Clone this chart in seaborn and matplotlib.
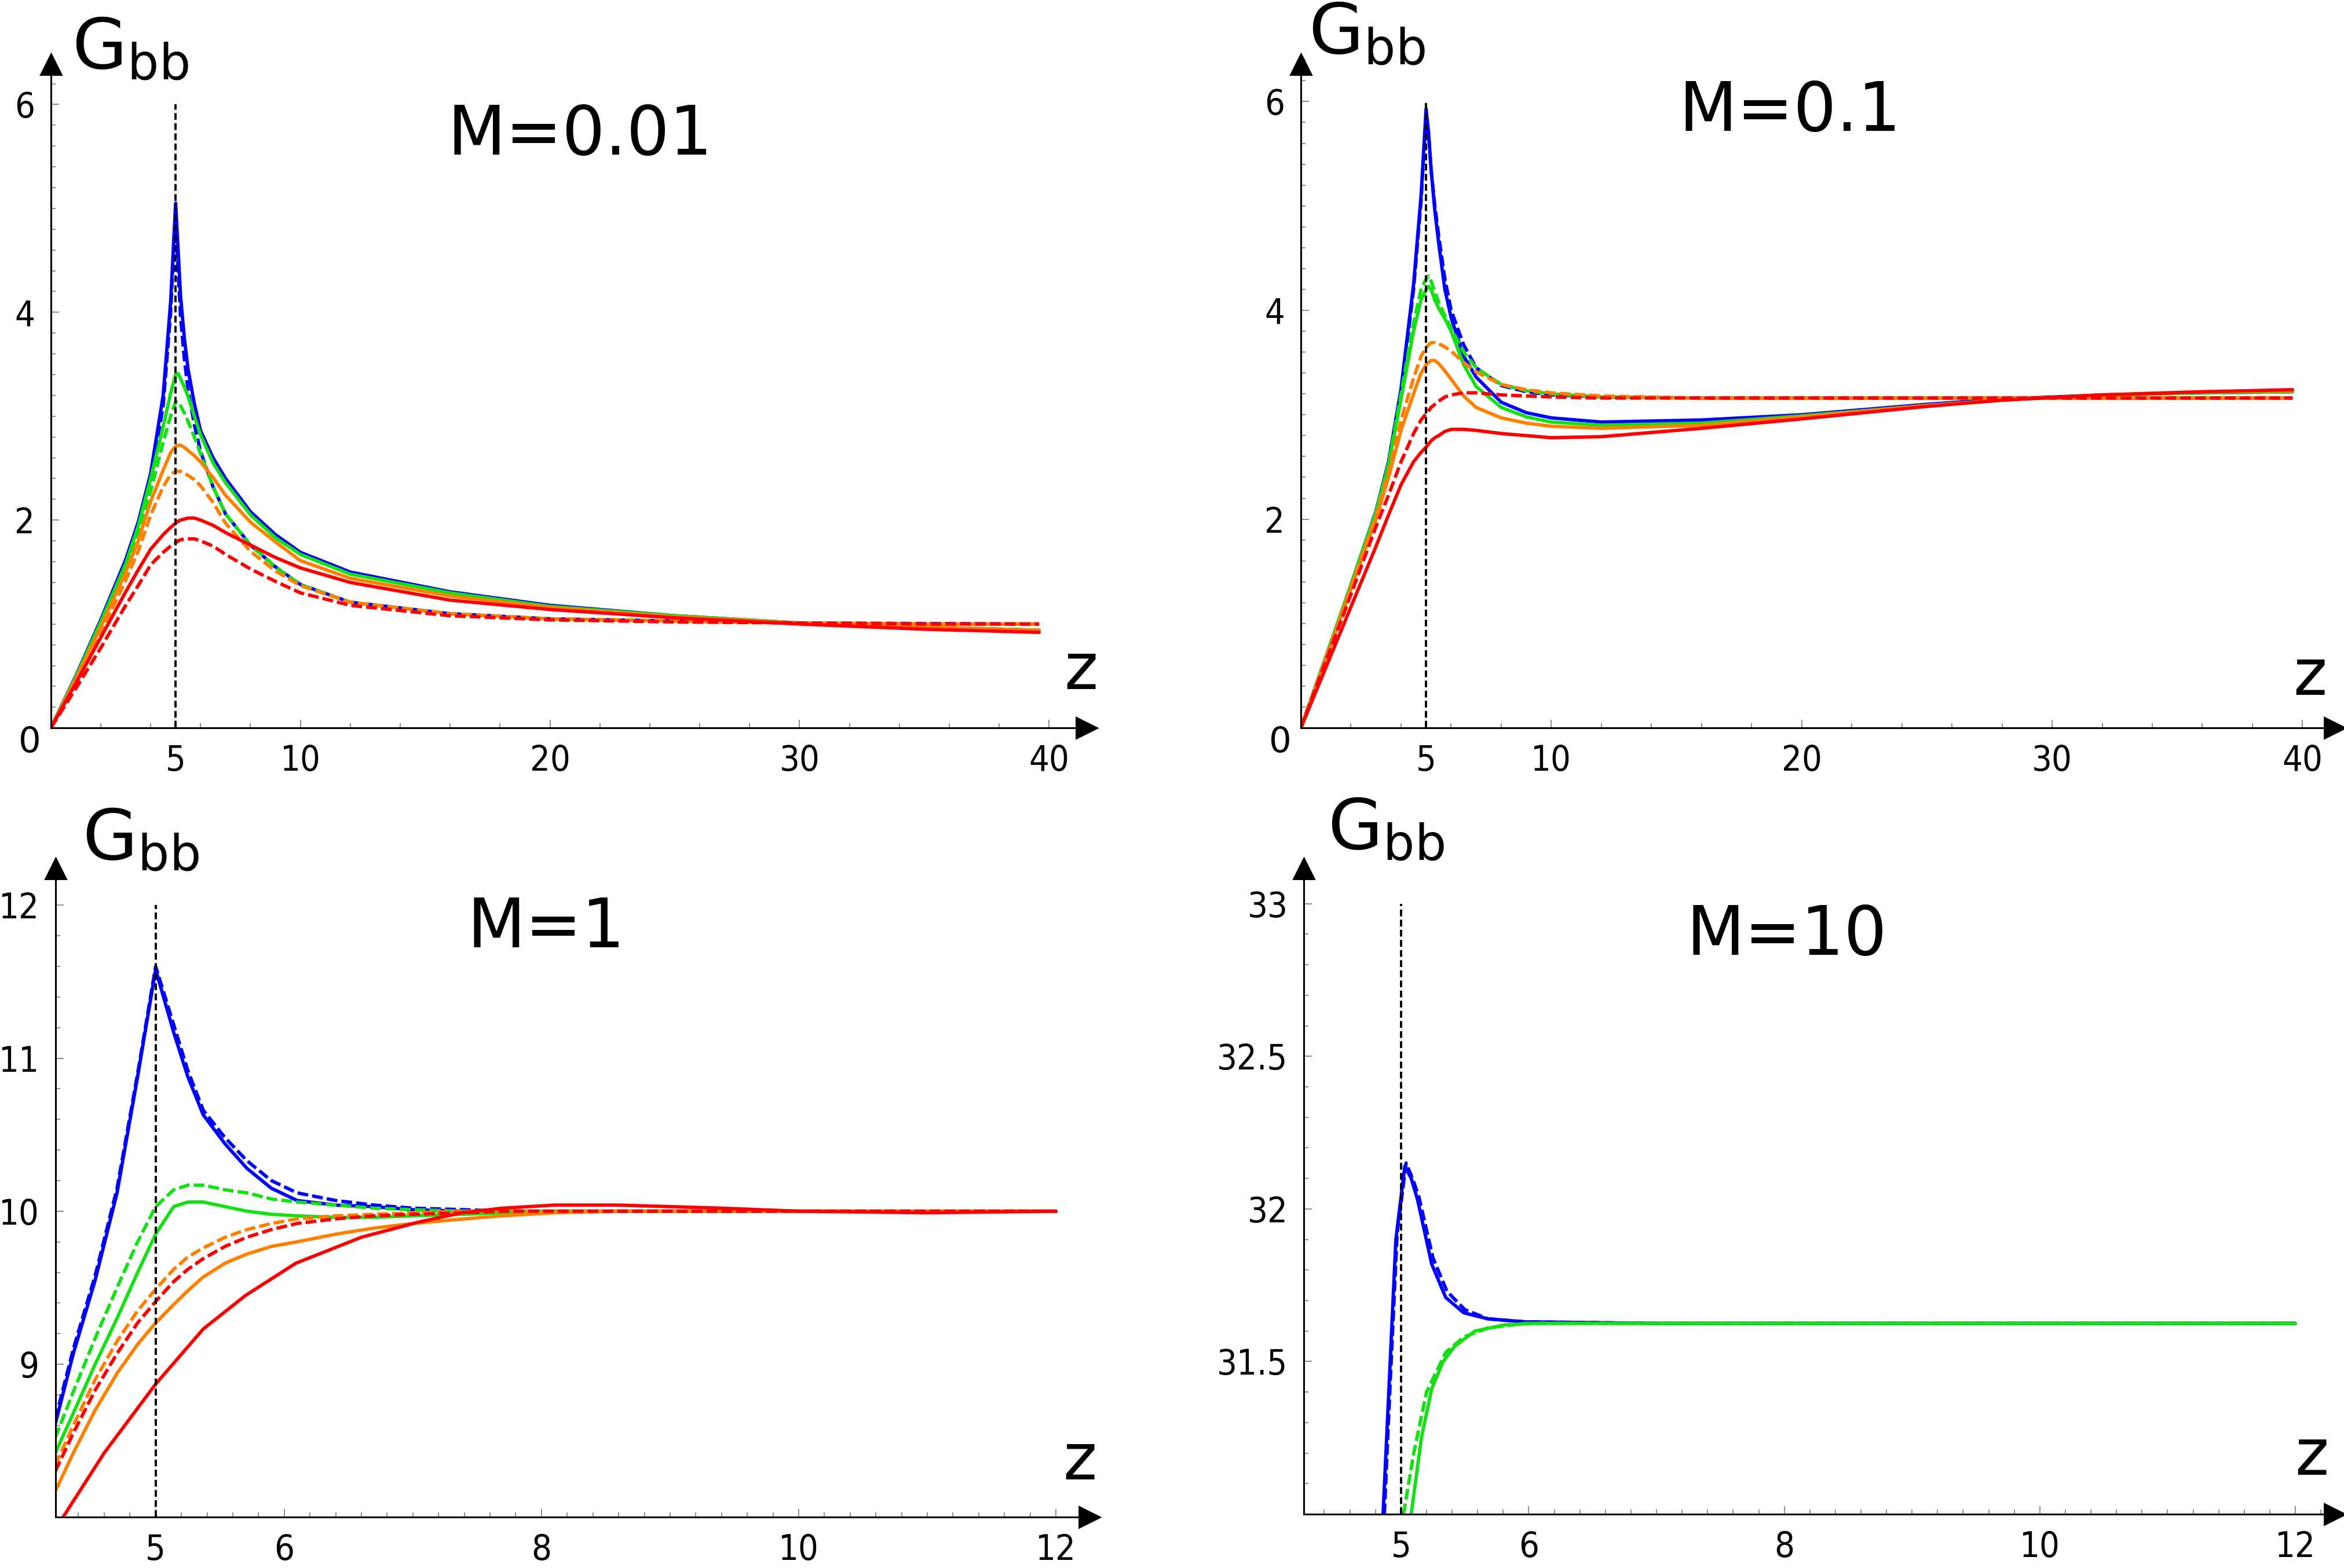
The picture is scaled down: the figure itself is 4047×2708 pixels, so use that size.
import numpy as np
import pandas as pd
import matplotlib
matplotlib.use("Agg")
import matplotlib.pyplot as plt
from matplotlib.ticker import FixedLocator, MultipleLocator
import seaborn as sns

# ---------------- data ----------------
# Panel M=0.01
z_m001 = [0, 1, 2, 3, 3.5, 4, 4.5, 4.8, 5.0, 5.1, 5.2, 5.35, 5.5, 5.75, 6.0, 6.5, 7, 8, 9, 10, 12, 16, 20, 25, 30, 35, 39.6]
m001_blue_solid = [0, 0.50, 1.04, 1.62, 1.98, 2.45, 3.2, 4.1, 5.05, 4.6, 4.15, 3.75, 3.45, 3.12, 2.86, 2.60, 2.40, 2.08, 1.86, 1.69, 1.50, 1.31, 1.18, 1.08, 1.01, 0.97, 0.94]
m001_blue_dash = [0, 0.48, 1.00, 1.56, 1.92, 2.38, 3.1, 4.0, 5.0, 4.4, 3.95, 3.55, 3.25, 2.92, 2.66, 2.32, 2.06, 1.76, 1.55, 1.38, 1.21, 1.10, 1.05, 1.03, 1.01, 1.005, 1.0]
m001_green_solid = [0, 0.49, 1.02, 1.58, 1.94, 2.40, 2.9, 3.22, 3.40, 3.41, 3.36, 3.28, 3.19, 3.0, 2.82, 2.55, 2.36, 2.05, 1.83, 1.67, 1.48, 1.30, 1.17, 1.08, 1.01, 0.97, 0.94]
m001_green_dash = [0, 0.47, 0.97, 1.52, 1.86, 2.28, 2.75, 3.0, 3.14, 3.14, 3.10, 3.03, 2.95, 2.80, 2.64, 2.32, 2.06, 1.76, 1.55, 1.38, 1.21, 1.10, 1.05, 1.03, 1.01, 1.0, 1.0]
m001_orange_solid = [0, 0.47, 0.97, 1.50, 1.80, 2.18, 2.48, 2.65, 2.71, 2.72, 2.72, 2.70, 2.67, 2.62, 2.56, 2.41, 2.24, 1.98, 1.79, 1.61, 1.44, 1.27, 1.16, 1.07, 1.01, 0.97, 0.94]
m001_orange_dash = [0, 0.44, 0.92, 1.42, 1.70, 2.05, 2.32, 2.44, 2.47, 2.47, 2.47, 2.45, 2.43, 2.39, 2.33, 2.17, 1.97, 1.70, 1.51, 1.37, 1.21, 1.10, 1.05, 1.03, 1.01, 1.0, 1.0]
m001_red_solid = [0, 0.43, 0.87, 1.31, 1.52, 1.72, 1.86, 1.93, 1.97, 1.99, 2.0, 2.01, 2.02, 2.02, 2.0, 1.95, 1.88, 1.76, 1.64, 1.54, 1.40, 1.23, 1.14, 1.06, 1.0, 0.95, 0.92]
m001_red_dash = [0, 0.38, 0.77, 1.18, 1.37, 1.57, 1.69, 1.75, 1.78, 1.80, 1.81, 1.82, 1.82, 1.82, 1.80, 1.75, 1.67, 1.53, 1.41, 1.30, 1.18, 1.08, 1.04, 1.02, 1.01, 1.0, 1.0]

# Panel M=0.1
z_m01 = [0, 1, 2, 3, 3.5, 4, 4.5, 4.8, 5.0, 5.1, 5.2, 5.35, 5.5, 5.75, 6.0, 6.5, 7, 8, 9, 10, 12, 16, 20, 25, 28, 32, 36, 39.6]
m01_blue_solid = [0, 0.68, 1.37, 2.08, 2.55, 3.25, 4.25, 5.1, 5.93, 5.7, 5.35, 4.95, 4.65, 4.2, 3.93, 3.56, 3.36, 3.12, 3.02, 2.97, 2.93, 2.95, 3.0, 3.1, 3.15, 3.19, 3.21, 3.22]
m01_blue_dash = [0, 0.68, 1.37, 2.07, 2.53, 3.22, 4.2, 5.05, 5.88, 5.68, 5.35, 5.0, 4.72, 4.3, 4.0, 3.67, 3.45, 3.28, 3.22, 3.19, 3.17, 3.16, 3.16, 3.16, 3.16, 3.16, 3.16, 3.16]
m01_green_solid = [0, 0.68, 1.37, 2.07, 2.52, 3.15, 3.8, 4.1, 4.2, 4.23, 4.2, 4.1, 4.02, 3.92, 3.8, 3.48, 3.27, 3.07, 2.98, 2.93, 2.90, 2.92, 2.99, 3.09, 3.14, 3.19, 3.21, 3.22]
m01_green_dash = [0, 0.68, 1.37, 2.07, 2.53, 3.2, 3.88, 4.2, 4.3, 4.33, 4.28, 4.18, 4.08, 3.95, 3.83, 3.6, 3.45, 3.29, 3.23, 3.2, 3.17, 3.16, 3.16, 3.16, 3.16, 3.16, 3.16, 3.16]
m01_orange_solid = [0, 0.66, 1.33, 2.0, 2.4, 2.85, 3.2, 3.4, 3.48, 3.5, 3.52, 3.52, 3.49, 3.42, 3.34, 3.18, 3.07, 2.97, 2.92, 2.89, 2.87, 2.90, 2.98, 3.09, 3.14, 3.19, 3.22, 3.23]
m01_orange_dash = [0, 0.67, 1.35, 2.03, 2.45, 2.95, 3.35, 3.56, 3.64, 3.67, 3.69, 3.69, 3.68, 3.65, 3.61, 3.5, 3.41, 3.29, 3.24, 3.21, 3.18, 3.16, 3.16, 3.16, 3.16, 3.16, 3.16, 3.16]
m01_red_solid = [0, 0.58, 1.16, 1.74, 2.04, 2.33, 2.55, 2.64, 2.69, 2.72, 2.75, 2.78, 2.8, 2.84, 2.86, 2.86, 2.85, 2.82, 2.8, 2.78, 2.79, 2.87, 2.96, 3.08, 3.14, 3.19, 3.22, 3.24]
m01_red_dash = [0, 0.64, 1.28, 1.93, 2.23, 2.55, 2.82, 2.95, 3.01, 3.04, 3.07, 3.10, 3.13, 3.17, 3.19, 3.21, 3.21, 3.19, 3.18, 3.17, 3.16, 3.16, 3.16, 3.16, 3.16, 3.16, 3.16, 3.16]

# Panel M=1
z_m1 = [4.22, 4.36, 4.53, 4.70, 4.86, 5.0, 5.14, 5.25, 5.37, 5.54, 5.71, 5.9, 6.1, 6.4, 6.7, 7.0, 7.4, 7.7, 8.1, 8.6, 9.4, 10.0, 11.0, 12.0]
m1_blue_solid = [8.61, 9.07, 9.55, 10.12, 10.88, 11.58, 11.17, 10.88, 10.63, 10.44, 10.28, 10.15, 10.07, 10.04, 10.03, 10.01, 10.0, 10.0, 10.0, 10.0, 10.0, 10.0, 10.0, 10.0]
m1_blue_dash = [8.64, 9.10, 9.58, 10.15, 10.9, 11.6, 11.22, 10.92, 10.66, 10.48, 10.33, 10.2, 10.12, 10.07, 10.04, 10.02, 10.01, 10.0, 10.0, 10.0, 10.0, 10.0, 10.0, 10.0]
m1_green_solid = [8.42, 8.68, 9.0, 9.3, 9.6, 9.85, 10.03, 10.06, 10.06, 10.03, 10.0, 9.98, 9.97, 9.96, 9.96, 9.97, 9.98, 9.99, 10.0, 10.0, 10.0, 10.0, 10.0, 10.0]
m1_green_dash = [8.52, 8.82, 9.17, 9.5, 9.8, 10.03, 10.14, 10.17, 10.17, 10.14, 10.12, 10.08, 10.06, 10.04, 10.02, 10.01, 10.0, 10.0, 10.0, 10.0, 10.0, 10.0, 10.0, 10.0]
m1_orange_solid = [8.17, 8.42, 8.7, 8.94, 9.13, 9.27, 9.39, 9.48, 9.57, 9.66, 9.72, 9.77, 9.8, 9.85, 9.89, 9.92, 9.95, 9.97, 9.99, 10.0, 10.0, 10.0, 10.0, 10.0]
m1_orange_dash = [8.34, 8.6, 8.9, 9.15, 9.35, 9.49, 9.62, 9.7, 9.76, 9.83, 9.88, 9.92, 9.95, 9.97, 9.98, 9.99, 10.0, 10.0, 10.0, 10.0, 10.0, 10.0, 10.0, 10.0]
m1_red_dash = [8.30, 8.55, 8.83, 9.07, 9.27, 9.41, 9.54, 9.62, 9.69, 9.77, 9.83, 9.88, 9.92, 9.95, 9.97, 9.98, 9.99, 10.0, 10.0, 10.0, 10.0, 10.0, 10.0, 10.0]
z_m1_red_solid = [4.28, 4.6, 5.0, 5.37, 5.7, 6.09, 6.6, 7.05, 7.38, 7.7, 8.1, 8.6, 9.4, 10.0, 11.0, 12.0]
m1_red_solid = [8.0, 8.42, 8.87, 9.23, 9.45, 9.66, 9.83, 9.93, 9.99, 10.02, 10.04, 10.04, 10.02, 10.0, 9.99, 10.0]

# Panel M=10
z_m10_blue_solid = [4.86, 4.90, 4.96, 5.03, 5.08, 5.13, 5.24, 5.35, 5.49, 5.68, 5.97, 7.0, 12.0]
m10_blue_solid = [31.0, 31.36, 31.9, 32.14, 32.1, 32.03, 31.82, 31.71, 31.66, 31.64, 31.63, 31.625, 31.625]
z_m10_blue_dash = [4.87, 4.91, 4.97, 5.04, 5.09, 5.14, 5.25, 5.36, 5.5, 5.68, 5.97, 7.0, 12.0]
m10_blue_dash = [31.0, 31.38, 31.92, 32.15, 32.1, 32.04, 31.84, 31.73, 31.67, 31.64, 31.63, 31.625, 31.625]
z_m10_green_solid = [5.08, 5.16, 5.24, 5.33, 5.42, 5.58, 5.81, 6.04, 7.0, 12.0]
m10_green_solid = [31.0, 31.25, 31.41, 31.5, 31.55, 31.60, 31.62, 31.625, 31.625, 31.625]
z_m10_green_dash = [5.02, 5.10, 5.2, 5.35, 5.49, 5.68, 5.97, 7.0, 12.0]
m10_green_dash = [31.0, 31.2, 31.4, 31.53, 31.58, 31.61, 31.625, 31.625, 31.625]

# Tick labels / titles
titles = ["M=0.01", "M=0.1", "M=1", "M=10"]
xticks_top = [5, 10, 20, 30, 40]
yticks_top = [2, 4, 6]
xticks_bot = [5, 6, 8, 10, 12]
yticks_m1 = [9, 10, 11, 12]
yticks_m10 = [31.5, 32, 32.5, 33]
yticklabels_m10 = ["31.5", "32", "32.5", "33"]
z_ref = 5

# ---------------- style ----------------
sns.set_style("white")
plt.rcParams["font.family"] = ["DejaVu Sans"]
plt.rcParams["mathtext.fontset"] = "dejavusans"
plt.rcParams["text.color"] = "black"
plt.rcParams["xtick.labelcolor"] = "black"
plt.rcParams["ytick.labelcolor"] = "black"

BLUE, GREEN, ORANGE, RED = "#0000ff", "#14e014", "#ff8000", "#ff0000"
DASH = (0, (3.2, 1.2))
LW = 2.1

fig = plt.figure(figsize=(20.24, 13.54), dpi=200)

W, H = 1568.0, 1049.0
def rect(x0, x1, ytop, ybot):
    return [x0 / W, 1 - ybot / H, (x1 - x0) / W, (ybot - ytop) / H]

ax1 = fig.add_axes(rect(34, 730, 40, 487))
ax2 = fig.add_axes(rect(870, 1565, 40, 487))
ax3 = fig.add_axes(rect(37, 732, 578, 1015))
ax4 = fig.add_axes(rect(872, 1565, 578, 1013))


def draw(ax, series):
    for z, g, c, dashed in series:
        kw = dict(linestyle=DASH) if dashed else dict(linestyle="-")
        sns.lineplot(x=z, y=g, ax=ax, color=c, linewidth=LW, estimator=None,
                     sort=False, legend=False, **kw)


draw(ax1, [
    (z_m001, m001_blue_solid, BLUE, False), (z_m001, m001_blue_dash, BLUE, True),
    (z_m001, m001_green_solid, GREEN, False), (z_m001, m001_green_dash, GREEN, True),
    (z_m001, m001_orange_solid, ORANGE, False), (z_m001, m001_orange_dash, ORANGE, True),
    (z_m001, m001_red_solid, RED, False), (z_m001, m001_red_dash, RED, True),
])
draw(ax2, [
    (z_m01, m01_blue_solid, BLUE, False), (z_m01, m01_blue_dash, BLUE, True),
    (z_m01, m01_green_solid, GREEN, False), (z_m01, m01_green_dash, GREEN, True),
    (z_m01, m01_orange_solid, ORANGE, False), (z_m01, m01_orange_dash, ORANGE, True),
    (z_m01, m01_red_solid, RED, False), (z_m01, m01_red_dash, RED, True),
])
draw(ax3, [
    (z_m1, m1_blue_solid, BLUE, False), (z_m1, m1_blue_dash, BLUE, True),
    (z_m1, m1_green_solid, GREEN, False), (z_m1, m1_green_dash, GREEN, True),
    (z_m1, m1_orange_solid, ORANGE, False), (z_m1, m1_orange_dash, ORANGE, True),
    (z_m1_red_solid, m1_red_solid, RED, False), (z_m1, m1_red_dash, RED, True),
])
draw(ax4, [
    (z_m10_blue_solid, m10_blue_solid, BLUE, False), (z_m10_blue_dash, m10_blue_dash, BLUE, True),
    (z_m10_green_solid, m10_green_solid, GREEN, False), (z_m10_green_dash, m10_green_dash, GREEN, True),
])

limits = [
    (ax1, (0, 41.7), (0, 6.43), 6),
    (ax2, (0, 41.5), (0, 6.40), 6),
    (ax3, (4.22, 12.3), (8, 12.27), 12),
    (ax4, (4.24, 12.35), (31, 33.13), 33),
]
for ax, xl, yl, ytop in limits:
    ax.set_xlim(*xl)
    ax.set_ylim(*yl)
    ax.plot([z_ref, z_ref], [yl[0], ytop], color="black", lw=1.4,
            linestyle=(0, (3, 1.5)), zorder=5)
    for s in ["top", "right"]:
        ax.spines[s].set_visible(False)
    for s in ["left", "bottom"]:
        ax.spines[s].set_color("black")
        ax.spines[s].set_linewidth(1.1)
    ax.plot(0.995, 0, ">", color="black", ms=13, transform=ax.transAxes, clip_on=False)
    ax.plot(0, 0.993, "^", color="black", ms=13, transform=ax.transAxes, clip_on=False)
    ax.set_xlabel("")
    ax.set_ylabel("")
    ax.patch.set_alpha(0)

# ticks
for ax in (ax1, ax2):
    ax.xaxis.set_major_locator(FixedLocator(xticks_top))
    ax.xaxis.set_minor_locator(MultipleLocator(2))
    ax.yaxis.set_major_locator(FixedLocator(yticks_top))
    ax.yaxis.set_minor_locator(MultipleLocator(0.2))
    ax.set_xticklabels([str(v) for v in xticks_top])
    ax.set_yticklabels([str(v) for v in yticks_top])
for ax in (ax3, ax4):
    ax.xaxis.set_major_locator(FixedLocator(xticks_bot))
    ax.xaxis.set_minor_locator(MultipleLocator(0.2))
    ax.set_xticklabels([str(v) for v in xticks_bot])
ax3.yaxis.set_major_locator(FixedLocator(yticks_m1))
ax3.yaxis.set_minor_locator(MultipleLocator(0.2))
ax3.set_yticklabels([str(v) for v in yticks_m1])
ax4.yaxis.set_major_locator(FixedLocator(yticks_m10))
ax4.yaxis.set_minor_locator(MultipleLocator(0.1))
ax4.set_yticklabels(yticklabels_m10)

for ax in (ax1, ax2, ax3, ax4):
    ax.tick_params(which="both", direction="in", color="#8c8c8c", width=0.7,
                   bottom=True, left=True, labelsize=22, pad=10,
                   labelcolor="black")
    ax.tick_params(which="major", length=5)
    ax.tick_params(which="minor", length=3)
    for lab in ax.get_xticklabels() + ax.get_yticklabels():
        lab.set_fontstretch("condensed")

# origin labels for the top panels
for ax in (ax1, ax2):
    ax.annotate("0", xy=(0, 0), xycoords="data", xytext=(-13, -9),
                textcoords="offset points", ha="center", va="center",
                fontsize=22, color="black", annotation_clip=False)

# titles
fig.text(388 / W, 1 - 91 / H, titles[0], fontsize=42, ha="center", va="center", color="black")
fig.text(1197 / W, 1 - 75 / H, titles[1], fontsize=42, ha="center", va="center", color="black")
fig.text(365 / W, 1 - 621 / H, titles[2], fontsize=42, ha="center", va="center", color="black")
fig.text(1195 / W, 1 - 626 / H, titles[3], fontsize=42, ha="center", va="center", color="black")

# axis labels
gbb = r"$\mathrm{G}_{\mathrm{bb}}$"
for (x, yb) in [(48, 46), (875, 36), (55, 575), (888, 568)]:
    fig.text(x / W, 1 - yb / H, gbb, fontsize=44, ha="left", va="baseline", color="black")
for (x, y) in [(723, 449), (1545, 453), (722, 978), (1546, 975)]:
    fig.text(x / W, 1 - y / H, "z", fontsize=40, ha="center", va="center", color="black")

fig.savefig("out.png", dpi=200, facecolor="white")
